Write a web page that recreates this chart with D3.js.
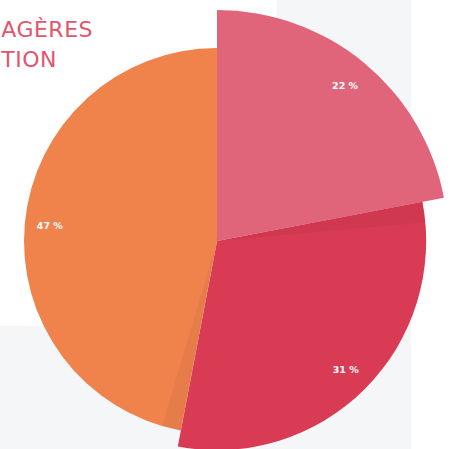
<!DOCTYPE html>
<html>
<head>
<meta charset="utf-8">
<script src="https://cdn.jsdelivr.net/npm/d3@7"></script>
<style>
  html, body { margin: 0; padding: 0; background: #ffffff; }
  svg { display: block; }
</style>
</head>
<body>
<svg id="chart" width="455" height="449"></svg>
<script>
// data
const categories = ['A', 'B', 'C'];
const shares = [22, 31, 47];          // pourcentages
const weights = [100, 54, 20];        // z (taille des parts)
const titleLines = ['AGÈRES', 'TION'];
const colors = ['#e0647a', '#d93b54', '#f0824c'];

const svg = d3.select('#chart');
const width = 455, height = 449;

// fond gris de la page
svg.append('rect').attr('x', 277).attr('y', 0).attr('width', 134).attr('height', height).style('fill', '#f5f6f8');
svg.append('rect').attr('x', 0).attr('y', 326).attr('width', 411).attr('height', height - 326).style('fill', '#f5f6f8');

// titre (coupé à gauche)
svg.append('g').selectAll('text')
  .data(titleLines)
  .enter()
  .append('text')
  .attr('x', (d, i) => i === 0 ? 93 : 57)
  .attr('y', (d, i) => 37 + i * 30)
  .attr('text-anchor', 'end')
  .style('font-family', '"DejaVu Sans", sans-serif')
  .style('font-size', '22px')
  .style('letter-spacing', '0.5px')
  .style('fill', '#e0566e')
  .text(d => d);

const cx = 217, cy = 241;
const rScale = d3.scaleLinear().domain([20, 100]).range([193, 231]);

const rows = categories.map((c, i) => ({ cat: c, value: shares[i], z: weights[i], color: colors[i] }));
const pie = d3.pie().sort(null).value(d => d.value);
const arcs = pie(rows);

const g = svg.append('g').attr('transform', `translate(${cx},${cy})`);

g.selectAll('.slice')
  .data(arcs)
  .enter()
  .append('path')
  .attr('class', 'slice')
  .attr('d', d => d3.arc().innerRadius(0).outerRadius(rScale(d.data.z))(d))
  .style('fill', d => d.data.color);

// ombre portée de la part précédente (plus grande)
const shadowAngle = 0.1;
g.selectAll('.shadow')
  .data(arcs.filter((d, i) => {
    const prev = arcs[(i + arcs.length - 1) % arcs.length];
    return prev.data.z > d.data.z;
  }))
  .enter()
  .append('path')
  .attr('class', 'shadow')
  .attr('d', d => d3.arc().innerRadius(0).outerRadius(rScale(d.data.z))
    .startAngle(d.startAngle).endAngle(d.startAngle + shadowAngle)())
  .style('fill', '#000')
  .style('fill-opacity', 0.04);

// étiquettes
g.selectAll('.label')
  .data(arcs)
  .enter()
  .append('text')
  .attr('class', 'label')
  .attr('transform', d => {
    const a = (d.startAngle + d.endAngle) / 2;
    const r = rScale(d.data.z) * 0.87;
    return `translate(${r * Math.sin(a)},${-r * Math.cos(a)})`;
  })
  .attr('text-anchor', 'middle')
  .attr('dy', '0.35em')
  .style('font-family', '"DejaVu Sans", sans-serif')
  .style('font-weight', 'bold')
  .style('font-size', '9.5px')
  .style('fill', '#ffffff')
  .text(d => d.data.value + ' %');
</script>
</body>
</html>
